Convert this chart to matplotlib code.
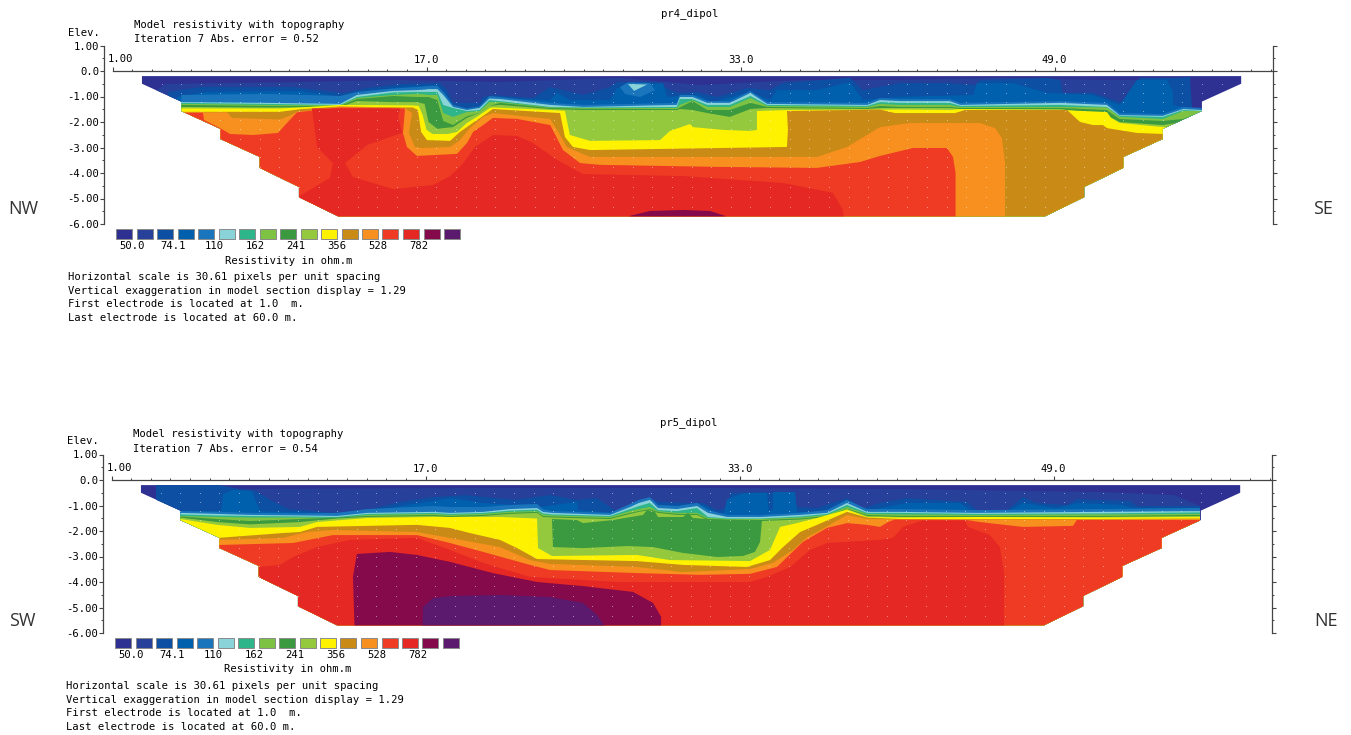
import matplotlib
matplotlib.use('Agg')
import matplotlib.pyplot as plt
from matplotlib.patches import Polygon, Rectangle
from matplotlib.ticker import FixedLocator, MultipleLocator
import numpy as np

W, H = 1351, 735
plt.rcParams['font.family'] = ['DejaVu Sans Mono']
plt.rcParams['font.size'] = 7.6

res_colors = ['#2E3192', '#27409A', '#0D4FA2', '#0060AE', '#1B75BC', '#8AD3D8', '#2FB58A',
              '#7DC242', '#3B9A3F', '#95C93D', '#FFF200', '#C98A16', '#F7901E', '#EF3B24',
              '#E52823', '#850A4B', '#5B1A6E']
legend_labels = ['50.0', '74.1', '110', '162', '241', '356', '528', '782']

# section outline, same for both profiles
sec_x = [2.5, 2.5, 4.5, 4.5, 6.5, 6.5, 8.5, 8.5, 10.5, 10.5, 12.5, 48.5, 50.5, 50.5, 52.5, 52.5,
         54.5, 54.5, 56.5, 56.5, 58.5, 58.5]
sec_z = [-0.2, -0.5, -1.2, -1.57, -2.27, -2.67, -3.37, -3.8, -4.55, -4.95, -5.7, -5.7, -4.95, -4.55,
         -3.8, -3.37, -2.67, -2.27, -1.57, -1.2, -0.5, -0.2]
dot_z = [-0.51, -0.87, -1.22, -1.58, -1.93, -2.29, -2.65, -3.03, -3.39, -3.78, -4.15, -4.55, -4.95, -5.33]

# pr4: thin layers near surface, all read at the same stations
p4_x = [4.5, 8.9, 12.6, 13.45, 15.3, 16.5, 16.9, 17.1, 17.55, 17.85, 18.35, 19.05, 19.7, 20.2, 20.75,
        23.3, 25, 29.75, 29.9, 30.55, 31.3, 32.45, 33.5, 34.35, 39.45, 40.1, 41.1, 43.65, 44.2, 49.3,
        51.65, 52.3, 54.5, 55.55, 56.5]
p4_blue = [-.94, -.9, -.98, -.82, -.69, -.63, -.61, -.59, -.59, -.82, -1.33, -1.47, -1.39, -.98, -1.02,
           -1.25, -1.33, -1.25, -.94, -.94, -1.18, -1.18, -.78, -1.22, -1.25, -1.06, -1.1, -1.1, -1.25, -1.18,
           -1.25, -1.65, -1.69, -1.41, -1.45]
p4_cyan = [-1.22, -1.25, -1.29, -.94, -.78, -.75, -.73, -.71, -.71, -.94, -1.41, -1.53, -1.45, -1.08, -1.1,
           -1.33, -1.41, -1.33, -1.02, -1.02, -1.25, -1.25, -.86, -1.29, -1.33, -1.14, -1.18, -1.18, -1.33, -1.25,
           -1.33, -1.73, -1.76, -1.49, -1.53]
p4_teal = [-1.25, -1.29, -1.33, -1.02, -.84, -.82, -.82, -.82, -.82, -1.33, -1.45, -1.57, -1.53, -1.14, -1.18,
           -1.41, -1.43, -1.41, -1.1, -1.1, -1.33, -1.33, -.98, -1.33, -1.37, -1.22, -1.25, -1.25, -1.37, -1.33,
           -1.41, -1.76, -1.8, -1.53, -1.57]
p4_green = [-1.29, -1.33, -1.35, -1.06, -.94, -.9, -.92, -.94, -.94, -1.65, -1.8, -1.61, -1.57, -1.22, -1.22,
            -1.43, -1.45, -1.45, -1.33, -1.14, -1.41, -1.41, -1.06, -1.37, -1.41, -1.29, -1.33, -1.33, -1.41, -1.41,
            -1.43, -1.8, -1.88, -1.57, -1.57]
p4_dark = [-1.33, -1.37, -1.37, -1.1, -.98, -1.02, -1.02, -1.02, -1.14, -1.96, -2.12, -1.78, -1.65, -1.37, -1.25,
           -1.45, -1.48, -1.49, -1.43, -1.18, -1.53, -1.53, -1.25, -1.41, -1.45, -1.37, -1.41, -1.41, -1.45, -1.45,
           -1.53, -1.88, -1.96, -1.88, -1.59]
p4_light = [-1.41, -1.43, -1.41, -1.18, -1.22, -1.22, -1.29, -2.0, -2.27, -2.24, -2.2, -1.84, -1.65, -1.37, -1.33,
            -1.49, -1.53, -1.53, -1.49, -1.53, -1.65, -1.8, -1.49, -1.45, -1.49, -1.45, -1.45, -1.45, -1.49, -1.49,
            -1.73, -2.0, -2.12, -2.0, -1.61]

# pr4: upper blue zones
p4_c1_x = [2.5, 3.27, 3.68, 10.55, 15.65, 20.74, 26.85, 30.93, 36.02, 41.11, 46.2, 51.3, 55.89, 55.89]
p4_c1_z = [-1.14, -.75, -.51, -.43, -.35, -.43, -.27, -.55, -.35, -.35, -.27, -.35, -.35, -1.53]
p4_c2_x = [3.83, 5.46, 10.2, 12.74, 13.97, 15.65, 17.68, 18.04, 18.35, 19.72, 19.88, 20.38, 22.42, 23.29, 23.95,
           24.97, 26.34, 26.7, 28.74, 29.4, 29.91, 30.78, 31.8, 33.32, 34.49, 35.16, 38.57, 39.23, 41.12, 43.51,
           45.04, 45.19, 48.61, 49.27, 49.42, 50.95, 52.32, 52.99, 53.34, 55.03, 55.89, 56]
p4_c2_z = [-.82, -.63, -.63, -.86, -.67, -.51, -.47, -.75, -1.25, -1.25, -1.02, -.94, -1.06, -.63, -.75,
           -.94, -.63, -.43, -.43, -.75, -.86, -.82, -1.02, -.67, -.75, -.47, -.27, -.75, -.47, -.47,
           -.55, -.35, -.27, -.35, -.86, -.86, -1.22, -.86, -.27, -.27, -.24, -1.53]
p4_c3_x = [4.28, 5.82, 10.55, 12.74, 13.97, 15.65, 17.53, 17.94, 18.3, 18.55, 19.72, 20.13, 20.38, 23.29, 23.65,
           24.31, 26.34, 26.7, 29.05, 29.25, 29.91, 30.78, 31.59, 33.48, 34.49, 34.85, 36.89, 38.57, 39.23, 40.96,
           44.84, 45.04, 46.87, 48.61, 50.95, 52.32, 53.19, 54.72, 55.03, 55.03, 55.74, 56.5]
p4_c3_z = [-1.02, -.82, -.78, -1.02, -.78, -.63, -.55, -.86, -1.25, -1.53, -1.45, -1.14, -1.06, -1.14, -.86,
           -1.14, -1.14, -.67, -.47, -1.02, -.98, -.94, -1.22, -.82, -1.14, -.75, -.75, -.43, -1.14, -1.02,
           -.94, -.47, -.47, -.86, -.94, -1.33, -.35, -.35, -.82, -1.33, -1.45, -1.53]
p4_spot_x = [26.85, 27.26, 28.38, 28.64, 27.87, 27.11]
p4_spot_z = [-.63, -.45, -.47, -.75, -1.02, -.9]
p4_tri_x = [27.26, 28.24, 27.57]
p4_tri_z = [-.51, -.53, -.78]

# pr4: deeper contours
p4_yel_x = [4.5, 9.53, 10.55, 12.59, 16.3, 16.6, 16.8, 17, 17.3, 18.1, 18.55, 19.05, 19.57, 20.23, 20.4, 23.3,
            24.05, 24.3, 25.33, 28.89, 29.4, 30.42, 30.57, 32.1, 33.48, 33.83, 33.83, 35.36, 41.11, 43.66, 44.17,
            49.27, 51.66, 51.87, 52.32, 54.52, 56.5]
p4_yel_z = [-1.47, -1.47, -1.43, -1.33, -1.35, -1.37, -1.73, -2.31, -2.47, -2.47, -2.39, -2.04, -1.8, -1.45, -1.43,
            -1.53, -1.56, -2.51, -2.74, -2.71, -2.35, -2.08, -2.2, -2.31, -2.35, -2.31, -1.57, -1.53, -1.51, -1.53, -1.49,
            -1.53, -1.61, -1.84, -2.04, -2.2, -2.31]
p4_och_x = [4.5, 9.53, 10.55, 12.59, 15.9, 16.3, 16.56, 16.72, 17.02, 18.2, 18.7, 19.2, 20.08, 20.38, 23.8, 24.05,
            24.46, 25.33, 35.36, 35.41, 35.36, 40.1, 40.86, 43.92, 44.43, 49.63, 50.29, 50.95, 51.46, 51.66, 53.19,
            54.52, 56.5]
p4_och_z = [-1.6, -1.6, -1.5, -1.39, -1.43, -1.43, -1.53, -2.39, -2.71, -2.74, -2.39, -2.12, -1.65, -1.49, -1.65, -2.59,
            -2.98, -3.1, -2.98, -2.31, -1.57, -1.51, -1.65, -1.65, -1.53, -1.53, -2.0, -2.12, -2.12, -2.24, -2.43,
            -2.47, -2.51]
p4_ora_x = [4.5, 6.83, 7.09, 9.53, 10.04, 10.4, 12.59, 15.9, 16.26, 16.1, 16.41, 16.77, 18.2, 18.7, 19.2, 19.88, 20.38,
            23.3, 23.65, 24.15, 24.82, 25.33, 36.89, 38.42, 40.1, 41.63, 45.19, 45.96, 46.31, 46.47, 46.47]
p4_ora_z = [-1.62, -1.62, -1.84, -1.9, -1.75, -1.6, -1.41, -1.45, -1.65, -2.43, -2.98, -3.02, -2.98, -2.71, -2.24, -1.8, -1.65,
            -1.88, -2.31, -2.98, -3.21, -3.37, -3.37, -2.98, -2.2, -2.04, -2.04, -2.24, -2.63, -3.61, -6.2]
p4_red_x = [4.5, 5.61, 5.66, 6.48, 6.99, 8.16, 9.43, 9.79, 10.4, 12.59, 15.9, 15.8, 16, 16.51, 18.55, 19.06, 19.37,
            19.88, 20.38, 21.61, 23.3, 23.95, 24.82, 25.83, 31.8, 36.89, 39.08, 40.1, 41.78, 43.51, 43.82, 43.95, 43.95]
p4_red_z = [-1.64, -1.64, -1.92, -2.24, -2.47, -2.51, -2.43, -2.12, -1.62, -1.43, -1.47, -2.43, -2.98, -3.33, -3.25, -2.82, -2.39,
            -2.12, -1.84, -1.88, -2.12, -3.1, -3.61, -3.68, -3.76, -3.8, -3.57, -3.33, -3.02, -3.02, -3.37, -4.0, -6.2]
p4_deep_x = [10.45, 10.45, 12.08, 12.23, 11.42, 11.16, 15.65, 15.55, 15.75, 13.97, 12.85, 13.25, 15.29, 17.33, 18.2, 18.8,
             19.47, 20.38, 21.61, 22.42, 23.65, 24.97, 30.06, 35.16, 37.7, 38.21, 38.32]
p4_deep_z = [-6.2, -4.94, -4.19, -3.61, -2.98, -1.47, -1.47, -1.8, -2.43, -2.9, -3.61, -4.16, -4.63, -4.47, -4.12, -3.68,
             -2.98, -2.51, -2.55, -2.82, -3.49, -4.04, -4.12, -4.39, -4.78, -5.45, -6.2]
p4_pur_x = [27.0, 27.36, 28.38, 30.06, 31.44, 32.2, 32.6]
p4_pur_z = [-6.2, -5.68, -5.49, -5.45, -5.49, -5.68, -6.2]

# pr5: thin layers near surface
p5_x = [4.5, 6.38, 8.06, 10.6, 12.49, 14.02, 17.38, 18.24, 19.93, 21.3, 22.68, 22.98, 23.44, 26.4, 27.42, 27.87,
        28.43, 28.84, 29.81, 30.83, 31.39, 32.36, 34.09, 36.08, 37.45, 38.47, 39.49, 41.17, 45.09, 51.31, 56.45]
p5_blue = [-1.22, -1.25, -1.29, -1.31, -1.29, -1.14, -1.02, -1.06, -1.06, -.98, -.94, -1.14, -1.22, -1.29, -.94, -.78,
           -.67, -.98, -1.02, -.90, -1.18, -1.37, -1.37, -1.29, -1.18, -.78, -1.14, -1.14, -1.18, -1.14, -1.1]
p5_cyan = [-1.29, -1.33, -1.37, -1.39, -1.41, -1.29, -1.25, -1.29, -1.25, -1.14, -1.1, -1.25, -1.29, -1.37, -1.06, -.90,
           -.78, -1.1, -1.14, -1.02, -1.29, -1.45, -1.45, -1.37, -1.29, -.90, -1.25, -1.25, -1.29, -1.25, -1.22]
p5_teal = [-1.35, -1.39, -1.41, -1.43, -1.45, -1.33, -1.29, -1.33, -1.29, -1.2, -1.16, -1.31, -1.35, -1.41, -1.14, -1.02,
           -.90, -1.18, -1.22, -1.1, -1.45, -1.51, -1.51, -1.43, -1.33, -.98, -1.29, -1.29, -1.33, -1.31, -1.27]
p5_green = [-1.41, -1.45, -1.47, -1.47, -1.49, -1.37, -1.33, -1.37, -1.33, -1.25, -1.22, -1.35, -1.39, -1.45, -1.22, -1.14,
            -1.06, -1.22, -1.29, -1.29, -1.49, -1.53, -1.53, -1.47, -1.37, -1.06, -1.33, -1.35, -1.37, -1.35, -1.33]
p5_dark = [-1.43, -1.53, -1.61, -1.53, -1.47, -1.41, -1.37, -1.41, -1.37, -1.29, -1.25, -1.41, -1.43, -1.49, -1.29, -1.22,
           -1.14, -1.25, -1.33, -1.33, -1.53, -1.55, -1.57, -1.51, -1.41, -1.12, -1.37, -1.41, -1.41, -1.41, -1.37]
p5_light = [-1.47, -1.65, -1.74, -1.65, -1.51, -1.45, -1.41, -1.45, -1.41, -1.33, -1.29, -1.45, -1.47, -1.53, -1.33, -1.25,
            -1.18, -1.29, -1.37, -1.37, -1.57, -1.57, -1.61, -1.55, -1.45, -1.14, -1.41, -1.45, -1.45, -1.45, -1.41]

# pr5: upper blue zones
p5_c1_x = [3.27, 3.27, 6.47, 6.73, 20.74, 30.93, 41.11, 51.31, 55.13, 56.45]
p5_c1_z = [-.82, -.2, -.2, -.35, -.31, -.31, -.35, -.47, -.59, -1.02]
p5_c2_x = [3.27, 3.27, 6.47, 7.5, 8.36, 9.18, 10.04, 12.28, 14.02, 15.7, 17.38, 19.11, 19.93, 21.61, 23.34, 24.71, 25.73,
           26.75, 28.28, 28.94, 30.11, 31.13, 31.85, 32.51, 32.51, 34.19, 34.7, 35.72, 35.92, 36.94, 38.47, 39.28, 40.15,
           41.52, 44.58, 45.09, 46.62, 47.43, 48.15, 49.68, 50.18, 52.88, 53.24, 56.45]
p5_c2_z = [-.82, -.2, -.2, -.35, -.43, -.82, -1.14, -1.29, -1.18, -.86, -.67, -.59, -.67, -.78, -.59, -.78, -.71,
           -1.25, -.71, -.86, -.9, -.9, -1.18, -1.06, -.51, -.47, -.51, -.47, -1.06, -1.1, -.71, -1.1, -.9,
           -.71, -.86, -1.18, -1.18, -.67, -.9, -.98, -.75, -.82, -1.02, -1.02]
p5_c3_x = [4.5, 6.58, 6.68, 7.14, 8.16, 8.41, 8.62, 12.59, 14.12, 15.7, 17.38, 18.24, 19.93, 22.83, 24.71, 24.77, 26.55,
           28.28, 28.84, 30.11, 31.13, 31.85, 32.2, 32.36, 33.22, 34.39, 34.49, 34.7, 34.7, 35.82, 35.92, 37.45, 38.47,
           39.28, 40.15, 41.52, 44.23, 44.89, 46.62, 47.43, 49.17, 50.18, 52.53, 53.04, 56.45]
p5_c3_z = [-1.22, -1.22, -.55, -.39, -.43, -.94, -1.22, -1.33, -1.25, -1.02, -.82, -.71, -.9, -1.06, -.86, -1.18, -1.29,
           -.78, -.98, -1.02, -.98, -1.29, -1.29, -.75, -.51, -.51, -1.18, -1.18, -.47, -.47, -1.25, -1.25, -.86,
           -1.25, -1.1, -.9, -.9, -1.25, -1.25, -.9, -1.1, -.9, -.98, -1.1, -1.1]

# pr5: deeper contours
p5_yel_x = [4.5, 6.38, 8.06, 10.6, 11.47, 14.02, 17.38, 20.79, 22.68, 22.73, 23.44, 27.77, 29.45, 33.53, 34.55, 35.06,
            35.92, 36.94, 38.47, 39.49, 41.17, 45.09, 51.31, 56.45]
p5_yel_z = [-1.53, -1.76, -1.88, -1.84, -1.65, -1.49, -1.45, -1.45, -1.51, -2.67, -2.98, -2.94, -3.14, -3.18, -2.74, -1.84,
            -1.69, -1.49, -1.16, -1.45, -1.47, -1.45, -1.47, -1.45]
p5_och_x = [6.43, 9.74, 10.6, 11.47, 16.56, 18.24, 19.26, 20.79, 21.66, 22.68, 27.77, 30.11, 33.37, 34.55, 35.21, 36.08,
            36.94, 38.47, 39.49, 41.17, 45.09, 51.31, 56.45]
p5_och_z = [-2.27, -2.08, -2.04, -1.84, -1.76, -1.88, -2.08, -2.35, -2.67, -3.1, -3.18, -3.33, -3.41, -3.14, -2.63, -2.04,
            -1.76, -1.25, -1.47, -1.53, -1.53, -1.53, -1.51]
p5_ora_x = [6.43, 9.74, 10.96, 12.28, 16.56, 18.24, 20.79, 22.32, 23.34, 27.77, 30.11, 33.53, 34.7, 35.72, 36.43, 36.94,
            38.47, 39.49, 41.17, 45.09, 51.31, 56.45]
p5_ora_z = [-2.35, -2.27, -2.04, -1.96, -2.04, -2.27, -2.63, -3.14, -3.29, -3.41, -3.61, -3.49, -3.25, -2.74, -2.24, -2.04,
            -1.37, -1.53, -1.55, -1.55, -1.55, -1.53]
p5_red_x = [6.43, 10.25, 12.28, 16.56, 18.24, 19.93, 22.32, 23.34, 27.77, 30.98, 33.53, 34.9, 36.22, 37.45, 38.47, 39.49,
            40.15, 40.56, 40.91, 44.58, 45.24, 47.43, 49.98, 50.18, 56.45]
p5_red_z = [-2.55, -2.47, -2.16, -2.16, -2.47, -2.82, -3.33, -3.53, -3.65, -3.72, -3.68, -3.41, -2.43, -1.88, -1.69, -1.76,
            -1.84, -1.65, -1.55, -1.57, -1.65, -1.84, -1.8, -1.57, -1.57]
p5_deep_x = [8.5, 9.58, 10.25, 11.47, 13.15, 16.56, 18.24, 19.93, 22.32, 26.75, 33.53, 34.4, 35.57, 36.59, 37.45, 40.15,
             40.81, 41.32, 42.33, 44.48, 44.63, 45.75, 46.26, 46.47, 46.47]
p5_deep_z = [-3.41, -3.33, -3.02, -2.63, -2.35, -2.27, -2.74, -3.25, -3.8, -4.0, -4.0, -3.8, -3.41, -2.74, -2.47, -2.35,
             -2.27, -1.84, -1.59, -1.59, -1.84, -2.16, -2.63, -3.65, -6.2]
p5_block_x = [23.44, 24.71, 25.02, 26.55, 28.08, 28.28, 28.69, 28.84, 30.11, 30.37, 30.62, 32.15, 34.14, 34.04, 33.78,
              33.17, 31.85, 30.11, 28.59, 27.26, 25.02, 23.49]
p5_block_z = [-1.53, -1.57, -1.69, -1.57, -1.37, -1.18, -1.25, -1.45, -1.45, -1.29, -1.49, -1.57, -1.57, -2.43, -2.82,
              -2.98, -3.02, -2.86, -2.63, -2.59, -2.67, -2.63]
p5_pur_x = [13.4, 13.3, 13.5, 15.19, 16.56, 18.24, 20.43, 22.68, 25.02, 27.57, 28.59, 29, 29]
p5_pur_z = [-6.2, -3.8, -2.9, -2.82, -2.94, -3.21, -3.65, -4.0, -4.16, -4.39, -4.82, -5.37, -6.2]
p5_vio_x = [16.82, 16.87, 17.38, 18.24, 20.79, 23.34, 25.02, 25.73, 26.09, 26.2]
p5_vio_z = [-6.2, -4.98, -4.63, -4.55, -4.51, -4.59, -4.82, -5.29, -5.68, -6.2]

# colour index, x, z, closed shape or filled down to the base
p4_layers = [(1, p4_c1_x, p4_c1_z, False), (2, p4_c2_x, p4_c2_z, False), (3, p4_c3_x, p4_c3_z, False),
             (4, p4_spot_x, p4_spot_z, True), (5, p4_tri_x, p4_tri_z, True),
             (4, p4_x, p4_blue, False), (5, p4_x, p4_cyan, False), (6, p4_x, p4_teal, False),
             (7, p4_x, p4_green, False), (8, p4_x, p4_dark, False), (9, p4_x, p4_light, False),
             (10, p4_yel_x, p4_yel_z, False), (11, p4_och_x, p4_och_z, False), (12, p4_ora_x, p4_ora_z, False),
             (13, p4_red_x, p4_red_z, False), (14, p4_deep_x, p4_deep_z, True), (15, p4_pur_x, p4_pur_z, True)]
p5_layers = [(1, p5_c1_x, p5_c1_z, False), (2, p5_c2_x, p5_c2_z, False), (3, p5_c3_x, p5_c3_z, False),
             (4, p5_x, p5_blue, False), (5, p5_x, p5_cyan, False), (6, p5_x, p5_teal, False),
             (7, p5_x, p5_green, False), (8, p5_x, p5_dark, False), (9, p5_x, p5_light, False),
             (8, p5_block_x, p5_block_z, True),
             (10, p5_yel_x, p5_yel_z, False), (11, p5_och_x, p5_och_z, False), (12, p5_ora_x, p5_ora_z, False),
             (13, p5_red_x, p5_red_z, False), (14, p5_deep_x, p5_deep_z, False), (15, p5_pur_x, p5_pur_z, True),
             (16, p5_vio_x, p5_vio_z, True)]

fig = plt.figure(figsize=(W / 100, H / 100), dpi=100)


def ptext(px, py, s, **kw):
    fig.text(px / W, 1 - py / H, s, va='center', color='black', **kw)


def draw_panel(layers, dx, dy, title, err, left_tag, right_tag):
    ax = fig.add_axes([(112.5 + dx) / W, 1 - (224 + dy) / H, 1159.5 / W, 178.5 / H])
    ax.set_xlim(1, 60.07)
    ax.set_ylim(-6, 1)
    ax.patch.set_visible(False)

    outline = Polygon(np.column_stack([sec_x, sec_z]), closed=True, fc=res_colors[0], ec='none')
    ax.add_patch(outline)
    for c, xs, zs, closed in layers:
        pts = np.column_stack([xs, zs])
        if not closed:
            pts = np.vstack([pts, [xs[-1], -7], [xs[0], -7]])
        p = Polygon(pts, closed=True, fc=res_colors[c], ec='none')
        ax.add_patch(p)
        p.set_clip_path(outline)

    # model block centres
    gx, gz = np.meshgrid(np.arange(3.5, 58), dot_z)
    d = ax.scatter(gx.ravel(), gz.ravel(), s=0.55, c='white', alpha=0.55, linewidths=0, zorder=5)
    d.set_clip_path(outline)

    ax.spines['bottom'].set_visible(False)
    ax.spines['left'].set_position(('outward', 5.8))
    ax.spines['top'].set_position(('data', 0))
    ax.spines['right'].set_position(('outward', 0.4))
    for s in ['left', 'right', 'top']:
        ax.spines[s].set_color('#444444')
        ax.spines[s].set_linewidth(0.9)
    ax.xaxis.tick_top()
    ax.set_xticks([1, 17, 33, 49])
    ax.set_xticklabels(['', '17.0', '33.0', '49.0'])
    ax.xaxis.set_minor_locator(FixedLocator(np.arange(1, 61)))
    ax.tick_params(axis='x', which='major', length=3.2, width=0.8, pad=1, color='#444444')
    ax.tick_params(axis='x', which='minor', length=1.8, width=0.7, color='#444444')
    ax.set_yticks(range(-6, 2))
    ax.set_yticklabels(['-6.00', '-5.00', '-4.00', '-3.00', '-2.00', '-1.00', '0.0', '1.00'])
    ax.yaxis.set_minor_locator(MultipleLocator(0.5))
    ax.yaxis.set_ticks_position('both')
    ax.tick_params(axis='y', which='major', length=3.2, width=0.8, pad=0.5, color='#444444')
    ax.tick_params(axis='y', which='minor', length=1.6, width=0.7, color='#444444')
    ax.tick_params(labelcolor='black')

    ptext(120 + dx, 59 + dy, '1.00', ha='center')
    ptext(690 + dx, 14 + dy, title, ha='center')
    ptext(134 + dx, 25.5 + dy, 'Model resistivity with topography', ha='left')
    ptext(134 + dx, 39.5 + dy, 'Iteration 7 Abs. error = ' + err, ha='left')
    ptext(68 + dx, 32.5 + dy, 'Elev.', ha='left')

    # colour key
    for i, col in enumerate(res_colors):
        fig.add_artist(Rectangle(((116 + dx + i * 20.5) / W, 1 - (238.7 + dy) / H), 16 / W, 9.7 / H,
                                 transform=fig.transFigure, fc=col, ec='#8a8a8a', lw=0.7))
    for i, lab in enumerate(legend_labels):
        ptext(132 + dx + i * 41.05, 246 + dy, lab, ha='center')
    ptext(288.7 + dx, 260.5 + dy, 'Resistivity in ohm.m', ha='center')
    ptext(67.5 + dx, 276.7 + dy, 'Horizontal scale is 30.61 pixels per unit spacing', ha='left')
    ptext(67.5 + dx, 291 + dy, 'Vertical exaggeration in model section display = 1.29', ha='left')
    ptext(67.5 + dx, 304.3 + dy, 'First electrode is located at 1.0  m.', ha='left')
    ptext(67.5 + dx, 318 + dy, 'Last electrode is located at 60.0 m.', ha='left')

    fig.text(left_tag[1] / W, 1 - left_tag[2] / H, left_tag[0], family='Open Sans', fontsize=13,
             color='#333333', ha='center', va='center')
    fig.text(right_tag[1] / W, 1 - right_tag[2] / H, right_tag[0], family='Open Sans', fontsize=13,
             color='#333333', ha='center', va='center')


draw_panel(p4_layers, 0, 0, 'pr4_dipol', '0.52', ('NW', 23, 209.5), ('SE', 1323, 209.5))
draw_panel(p5_layers, -1, 409, 'pr5_dipol', '0.54', ('SW', 22, 621), ('NE', 1326, 621))

fig.savefig('out.png', dpi=100)
